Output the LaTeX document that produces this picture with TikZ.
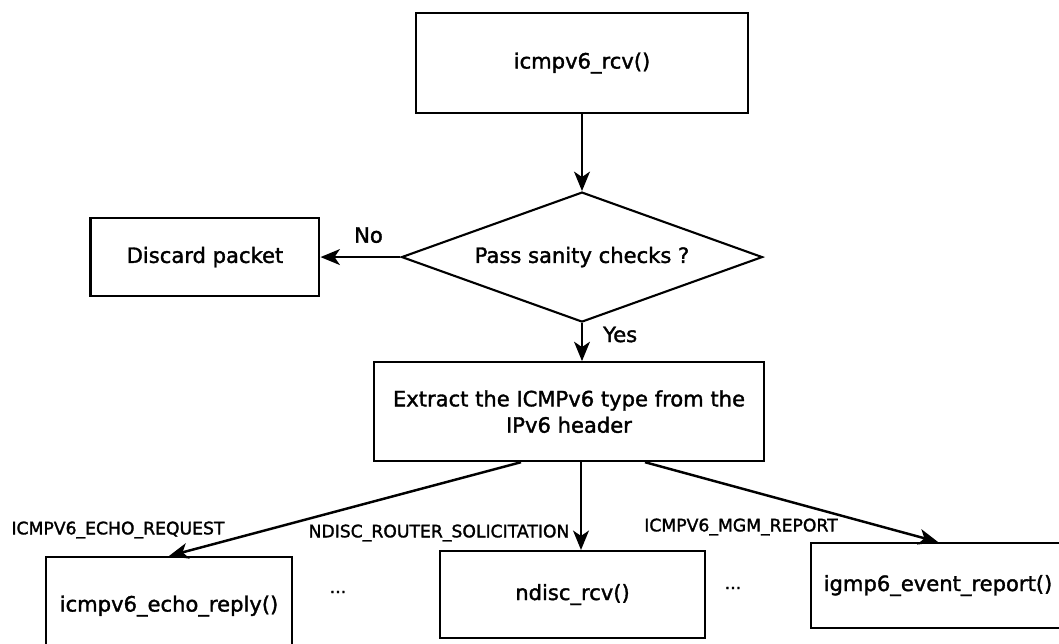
\documentclass[tikz,border=0pt]{standalone}
\usepackage{fontspec}
\setmainfont{DejaVu Sans}[FakeBold=1.6]
\usetikzlibrary{shapes.geometric, positioning, arrows.meta}

\begin{document}
\begin{tikzpicture}[x=0.02cm, y=-0.02cm,
	box/.style={draw, line width=1.2pt, align=center, font=\fontsize{12}{15}\selectfont},
	decision/.style={diamond, draw, line width=1.2pt, inner sep=0pt, aspect=2.78,
		minimum width=7.22cm, minimum height=2.6cm, font=\fontsize{12}{15}\selectfont},
	typename/.style={font=\fontsize{9.8}{12}\selectfont}]
	\useasboundingbox (0,0) rectangle (1059,643);
	\node (rcv) [box, minimum width=6.64cm, minimum height=2cm] at (582,63) {icmpv6\_rcv()};
	\node (check) [decision, below=1.54cm of rcv] {Pass sanity checks ?};
	\node (discard) [box, minimum width=4.58cm, minimum height=1.56cm, left=1.6cm of check] {Discard packet};
	\node (extract) [box, minimum width=7.8cm, minimum height=1.98cm, below=0.76cm of check, xshift=-0.26cm]
		{Extract the ICMPv6 type from the\\IPv6 header};
	\node (echo) [box, minimum width=4.92cm, minimum height=1.96cm] at (169,606) {icmpv6\_echo\_reply()};
	\node (ndisc) [box, minimum width=5.3cm, minimum height=1.74cm] at (572.5,594.5) {ndisc\_rcv()};
	\node (igmp) [box, minimum width=5.08cm, minimum height=1.7cm] at (938,585.5) {igmp6\_event\_report()};
	\node (techo) [typename] at (118,530) {ICMPV6\_ECHO\_REQUEST};
	\node (tndisc) [typename] at (439,533) {NDISC\_ROUTER\_SOLICITATION};
	\node (tmgm) [typename] at (741,527) {ICMPV6\_MGM\_REPORT};
	\node (dots1) [typename] at (338,592) {...};
	\node (dots2) [typename] at (733,588) {...};
	\path[-{Stealth[length=11pt, width=9pt, inset=3pt]}, line width=1.4pt, font=\fontsize{12}{15}\selectfont]
		(rcv) edge (check)
		(check) edge node[above=4pt, xshift=0.16cm] {No} (discard)
		(check.south) edge node[right=8pt, pos=0.3] {Yes} (check.south |- extract.north)
		([xshift=-0.96cm]extract.south) edge (echo.north)
		([xshift=0.24cm]extract.south) edge ([xshift=0.24cm]extract.south |- ndisc.north)
		([xshift=1.52cm]extract.south) edge (igmp.north)
	;
\end{tikzpicture}
\end{document}
